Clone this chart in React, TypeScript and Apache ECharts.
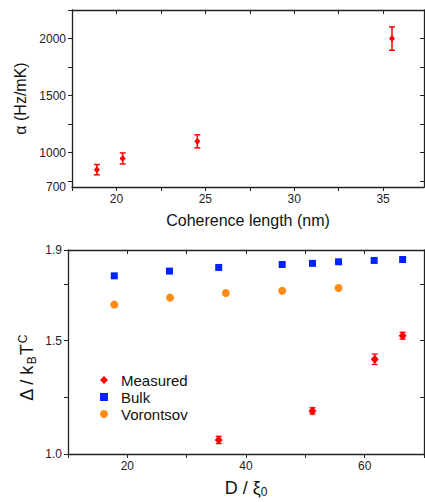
import React, { useEffect, useRef } from "react";
import * as echarts from "echarts";

// Top panel: alpha vs coherence length
const coherenceLength = [18.9, 20.35, 24.55, 35.5];
const alphaValues = [852, 950, 1100, 2000];
const alphaErrors = [45, 48, 57, 102];
const topXLabels = [20, 25, 30, 35];
const topYLabels = [700, 1000, 1500, 2000];

// Bottom panel: gap ratio vs D / xi0
const measuredX = [35.4, 51.2, 61.7, 66.4];
const measuredY = [1.062, 1.19, 1.418, 1.522];
const measuredErr = [0.016, 0.014, 0.023, 0.015];
const bulkX = [17.8, 27.1, 35.4, 46.1, 51.2, 55.6, 61.6, 66.4];
const bulkY = [1.786, 1.807, 1.823, 1.836, 1.841, 1.848, 1.854, 1.858];
const vorontsovX = [17.8, 27.2, 36.6, 46.1, 55.6];
const vorontsovY = [1.659, 1.69, 1.71, 1.72, 1.732];
const bottomXLabels = [20, 40, 60];
const bottomYLabels = [1.0, 1.5, 1.9];

const FONT = "'Liberation Sans', Arial, sans-serif";
const AXIS_COLOR = "#222";
const RED = "#ff0000";
const BLUE = "#0022ff";
const ORANGE = "#ff8a14";

function errorBarRender(color: string, hw: number, lw: number) {
  return (params: any, api: any) => {
    const x = api.value(0);
    const y = api.value(1);
    const e = api.value(2);
    const top = api.coord([x, y + e]);
    const bot = api.coord([x, y - e]);
    const style = { stroke: color, lineWidth: lw };
    return {
      type: "group",
      children: [
        { type: "line", shape: { x1: top[0], y1: top[1], x2: bot[0], y2: bot[1] }, style },
        { type: "line", shape: { x1: top[0] - hw, y1: top[1], x2: top[0] + hw, y2: top[1] }, style },
        { type: "line", shape: { x1: bot[0] - hw, y1: bot[1], x2: bot[0] + hw, y2: bot[1] }, style },
      ],
    };
  };
}

export default function App() {
  const ref = useRef<HTMLDivElement>(null);
  useEffect(() => {
    if (!ref.current) return;
    const chart = echarts.init(ref.current, undefined, { renderer: "svg" });

    const axisLine = { show: true, lineStyle: { color: AXIS_COLOR, width: 1.3 } };
    const labelStyle = { color: "#222", fontFamily: FONT, fontSize: 12 };

    const topXTicks = [17.5, 20, 22.5, 25, 27.5, 30, 32.5, 35, 37.5];
    const topYTicks = [750, 1000, 1250, 1500, 1750, 2000, 2250];
    const botXTicks = [10, 20, 30, 40, 50, 60, 70];
    const botYTicks = [1.0, 1.25, 1.5, 1.75, 1.9];

    const option: any = {
      animation: false,
      textStyle: { fontFamily: FONT },
      grid: [
        { left: 72, top: 10, right: 1, height: 177 },
        { left: 68, top: 250, right: 1, height: 204 },
      ],
      legend: {
        orient: "vertical",
        left: 100,
        top: 372,
        padding: 0,
        itemWidth: 8,
        itemHeight: 8,
        itemGap: 1,
        textStyle: { fontFamily: FONT, fontSize: 15, color: "#111", lineHeight: 16, padding: [0, 0, 0, 8] },
        data: [
          { name: "Measured", icon: "diamond", itemStyle: { color: RED } },
          { name: "Bulk", icon: "rect", itemStyle: { color: BLUE } },
          { name: "Vorontsov", icon: "circle", itemStyle: { color: ORANGE } },
        ],
      },
      xAxis: [
        {
          gridIndex: 0,
          type: "value",
          min: 17.5,
          max: 37.3,
          position: "bottom",
          axisLine,
          splitLine: { show: false },
          axisTick: { show: true, inside: false, length: 4, customValues: topXTicks, lineStyle: { color: AXIS_COLOR } },
          axisLabel: { ...labelStyle, margin: 6, customValues: topXLabels, formatter: (v: number) => String(v) },
          name: "Coherence length (nm)",
          nameLocation: "middle",
          nameGap: 25,
          nameTextStyle: { fontFamily: FONT, fontSize: 16, color: "#111" },
        },
        {
          gridIndex: 0,
          type: "value",
          min: 17.5,
          max: 37.3,
          position: "top",
          axisLine,
          splitLine: { show: false },
          axisTick: { show: true, inside: true, length: 4, customValues: topXTicks, lineStyle: { color: AXIS_COLOR } },
          axisLabel: { show: false },
        },
        {
          gridIndex: 1,
          type: "value",
          min: 10,
          max: 70,
          position: "bottom",
          axisLine,
          splitLine: { show: false },
          axisTick: { show: true, inside: false, length: 4, customValues: botXTicks, lineStyle: { color: AXIS_COLOR } },
          axisLabel: { ...labelStyle, margin: 6, customValues: bottomXLabels, formatter: (v: number) => String(v) },
          name: "D / {m|ξ}{s|0}",
          nameLocation: "middle",
          nameGap: 24,
          nameTextStyle: {
            fontFamily: FONT,
            fontSize: 18,
            color: "#111",
            rich: {
              m: { fontFamily: FONT, fontSize: 18, color: "#111" },
              s: { fontFamily: FONT, fontSize: 12, color: "#111", verticalAlign: "bottom", padding: [8, 0, 0, 0] },
            },
          },
        },
        {
          gridIndex: 1,
          type: "value",
          min: 10,
          max: 70,
          position: "top",
          axisLine,
          splitLine: { show: false },
          axisTick: { show: true, inside: true, length: 4, customValues: botXTicks, lineStyle: { color: AXIS_COLOR } },
          axisLabel: { show: false },
        },
      ],
      yAxis: [
        {
          gridIndex: 0,
          type: "value",
          min: 700,
          max: 2250,
          position: "left",
          axisLine,
          splitLine: { show: false },
          axisTick: { show: true, inside: false, length: 4, customValues: topYTicks, lineStyle: { color: AXIS_COLOR } },
          axisLabel: { ...labelStyle, margin: 6, customValues: topYLabels, formatter: (v: number) => String(v) },
          name: "α (Hz/mK)",
          nameLocation: "middle",
          nameGap: 44,
          nameTextStyle: { fontFamily: FONT, fontSize: 16, color: "#111" },
        },
        {
          gridIndex: 0,
          type: "value",
          min: 700,
          max: 2250,
          position: "right",
          axisLine,
          splitLine: { show: false },
          axisTick: { show: true, inside: true, length: 4, customValues: topYTicks, lineStyle: { color: AXIS_COLOR } },
          axisLabel: { show: false },
        },
        {
          gridIndex: 1,
          type: "value",
          min: 1.0,
          max: 1.9,
          position: "left",
          axisLine,
          splitLine: { show: false },
          axisTick: { show: true, inside: false, length: 4, customValues: botYTicks, lineStyle: { color: AXIS_COLOR } },
          axisLabel: {
            ...labelStyle,
            margin: 6,
            customValues: bottomYLabels,
            formatter: (v: number) => v.toFixed(1),
          },
        },
        {
          gridIndex: 1,
          type: "value",
          min: 1.0,
          max: 1.9,
          position: "right",
          axisLine,
          splitLine: { show: false },
          axisTick: { show: true, inside: true, length: 4, customValues: botYTicks, lineStyle: { color: AXIS_COLOR } },
          axisLabel: { show: false },
        },
      ],
      graphic: [
        {
          type: "text",
          x: 27,
          y: 368,
          rotation: Math.PI / 2,
          style: {
            text: "{m|Δ / k}{b|B}{m|T}{c|C}",
            align: "center",
            verticalAlign: "middle",
            fill: "#111",
            font: `18px ${FONT}`,
            rich: {
              m: { fontFamily: FONT, fontSize: 18, fill: "#111" },
              b: { fontFamily: FONT, fontSize: 12, fill: "#111", padding: [10, 1, 0, 1] },
              c: { fontFamily: FONT, fontSize: 12, fill: "#111", padding: [0, 0, 8, 1] },
            },
          },
        },
      ],
      series: [
        {
          type: "custom",
          xAxisIndex: 0,
          yAxisIndex: 0,
          renderItem: errorBarRender(RED, 3, 1.5),
          encode: { x: 0, y: 1 },
          data: coherenceLength.map((x, i) => [x, alphaValues[i], alphaErrors[i]]),
          z: 2,
        },
        {
          type: "scatter",
          xAxisIndex: 0,
          yAxisIndex: 0,
          symbol: "diamond",
          symbolSize: [6, 7],
          itemStyle: { color: RED, opacity: 1 },
          data: coherenceLength.map((x, i) => [x, alphaValues[i]]),
          z: 3,
        },
        {
          type: "custom",
          xAxisIndex: 2,
          yAxisIndex: 2,
          renderItem: errorBarRender(RED, 3, 1.3),
          encode: { x: 0, y: 1 },
          data: measuredX.map((x, i) => [x, measuredY[i], measuredErr[i]]),
          z: 2,
        },
        {
          name: "Measured",
          type: "scatter",
          xAxisIndex: 2,
          yAxisIndex: 2,
          symbol: "diamond",
          symbolSize: [8, 9],
          itemStyle: { color: RED, opacity: 1 },
          data: measuredX.map((x, i) => [x, measuredY[i]]),
          z: 3,
        },
        {
          name: "Bulk",
          type: "scatter",
          xAxisIndex: 2,
          yAxisIndex: 2,
          symbol: "rect",
          symbolSize: 7,
          itemStyle: { color: BLUE, opacity: 1 },
          data: bulkX.map((x, i) => [x, bulkY[i]]),
        },
        {
          name: "Vorontsov",
          type: "scatter",
          xAxisIndex: 2,
          yAxisIndex: 2,
          symbol: "circle",
          symbolSize: 8,
          itemStyle: { color: ORANGE, opacity: 1 },
          data: vorontsovX.map((x, i) => [x, vorontsovY[i]]),
        },
      ],
    };
    chart.setOption(option);
    return () => chart.dispose();
  }, []);
  return (
    <div
      ref={ref}
      style={{ position: "fixed", left: 0, top: 0, width: 425, height: 502, background: "#fff" }}
    />
  );
}
